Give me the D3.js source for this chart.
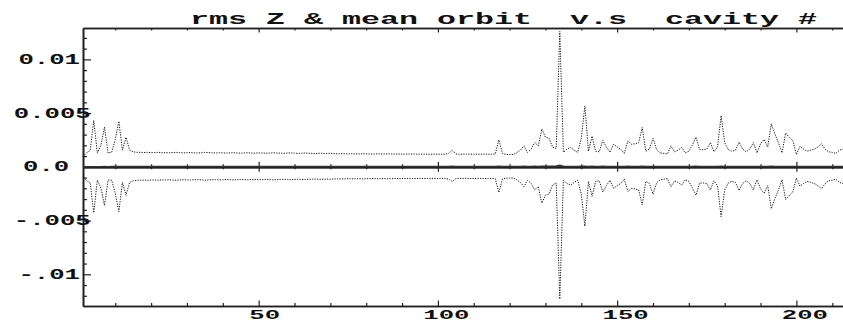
<!DOCTYPE html>
<head>
<meta charset="utf-8">
<title>rms Z & mean orbit v.s cavity #</title>
<script src="https://d3js.org/d3.v7.min.js"></script>
<style>
body{
	margin: 0;
	background: #fff;
}
svg{
	display: block;
}
.lbl{
	font-family: "Liberation Mono", "DejaVu Sans Mono", monospace;
	font-weight: bold;
	fill: #111;
}
</style>
</head>
<body>
<div id="my_dataviz"></div>

<script>

// values in units of 1e-3, one per cavity (cavity # = index + 1)
var rmsZ = [
  0.95, 1.3, 1.5, 4.3, 1.25, 2.0, 3.65, 1.25, 1.3, 2.5, 4.2, 1.5, 2.7, 1.5, 1.35, 1.3, 1.3, 1.28, 1.3, 1.27,
  1.28, 1.3, 1.26, 1.27, 1.25, 1.28, 1.3, 1.27, 1.25, 1.26, 1.28, 1.25, 1.24, 1.26, 1.3, 1.27, 1.25, 1.24, 1.26, 1.25,
  1.23, 1.25, 1.27, 1.24, 1.22, 1.24, 1.26, 1.23, 1.22, 1.25, 1.24, 1.22, 1.23, 1.26, 1.24, 1.22, 1.21, 1.23, 1.25, 1.22,
  1.2, 1.22, 1.24, 1.21, 1.2, 1.18, 1.22, 1.2, 1.19, 1.21, 1.18, 1.16, 1.18, 1.17, 1.15, 1.17, 1.16, 1.15, 1.17, 1.16,
  1.15, 1.14, 1.16, 1.15, 1.14, 1.16, 1.15, 1.13, 1.15, 1.14, 1.13, 1.15, 1.14, 1.13, 1.12, 1.14, 1.13, 1.12, 1.14, 1.13,
  1.12, 1.13, 1.2, 1.45, 1.15, 1.12, 1.13, 1.12, 1.14, 1.13, 1.12, 1.13, 1.14, 1.12, 1.13, 1.15, 2.45, 1.2, 1.1, 1.1,
  1.1, 1.25, 1.5, 1.9, 1.3, 1.6, 2.2, 1.9, 3.45, 2.7, 2.6, 1.75, 1.6, 12.45, 1.3, 1.6, 1.75, 1.5, 1.3, 2.6,
  5.6, 1.4, 2.8, 1.4, 1.35, 2.4, 1.8, 1.3, 2.05, 1.8, 1.6, 1.2, 2.35, 2.05, 2.1, 2.2, 3.6, 1.4, 1.6, 2.6,
  1.55, 1.25, 1.2, 1.15, 1.9, 1.35, 1.5, 1.75, 1.25, 1.4, 2.0, 2.7, 1.55, 1.55, 1.6, 2.2, 1.35, 1.8, 4.7, 2.2,
  1.55, 1.4, 1.5, 2.25, 1.6, 1.35, 1.6, 2.2, 1.25, 2.1, 2.5, 1.8, 3.95, 3.0, 2.2, 1.25, 3.1, 2.7, 2.4, 1.1,
  1.85, 1.6, 1.4, 1.5, 1.6, 1.8, 2.1, 1.6, 1.35, 1.3, 1.2, 1.5, 1.6
];

var meanOrbit = [
  0.0, 0.0, 0.02, 0.03, 0.02, 0.03, 0.04, 0.03, 0.05, 0.05, 0.04, 0.05, 0.05, 0.05, 0.05, 0.05, 0.05, 0.05, 0.05, 0.05,
  0.05, 0.05, 0.05, 0.05, 0.05, 0.05, 0.05, 0.05, 0.05, 0.05, 0.05, 0.05, 0.05, 0.05, 0.05, 0.05, 0.05, 0.05, 0.05, 0.05,
  0.05, 0.05, 0.05, 0.05, 0.05, 0.05, 0.05, 0.05, 0.05, 0.05, 0.05, 0.05, 0.05, 0.05, 0.05, 0.05, 0.05, 0.05, 0.05, 0.05,
  0.05, 0.05, 0.05, 0.05, 0.05, 0.05, 0.05, 0.05, 0.05, 0.05, 0.05, 0.05, 0.05, 0.05, 0.05, 0.05, 0.05, 0.05, 0.05, 0.05,
  0.05, 0.05, 0.05, 0.05, 0.05, 0.05, 0.05, 0.05, 0.05, 0.05, 0.05, 0.05, 0.05, 0.05, 0.05, 0.05, 0.05, 0.05, 0.05, 0.05,
  0.05, 0.05, 0.05, 0.08, 0.05, 0.05, 0.05, 0.05, 0.05, 0.05, 0.05, 0.05, 0.05, 0.05, 0.05, 0.05, 0.06, 0.05, 0.05, 0.05,
  0.05, 0.05, 0.05, 0.06, 0.05, 0.05, 0.06, 0.05, 0.07, 0.06, 0.06, 0.08, 0.1, 0.15, 0.06, 0.05, 0.05, 0.05, 0.05, 0.06,
  0.07, 0.05, 0.06, 0.05, 0.05, 0.06, 0.05, 0.05, 0.05, 0.05, 0.05, 0.05, 0.06, 0.05, 0.05, 0.05, 0.06, 0.05, 0.05, 0.05,
  0.05, 0.05, 0.05, 0.05, 0.05, 0.05, 0.05, 0.05, 0.05, 0.05, 0.05, 0.06, 0.05, 0.05, 0.05, 0.05, 0.05, 0.05, 0.07, 0.05,
  0.05, 0.05, 0.05, 0.05, 0.05, 0.05, 0.05, 0.05, 0.05, 0.05, 0.05, 0.05, 0.06, 0.05, 0.05, 0.05, 0.05, 0.05, 0.05, 0.05,
  0.05, 0.05, 0.05, 0.05, 0.05, 0.05, 0.05, 0.05, 0.05, 0.05, 0.05, 0.05, 0.05
];

var xMajorTicks = [50, 100, 150, 200];
var xMajorLabels = ["50", "100", "150", "200"];
var xMinorTicks = [10, 20, 30, 40, 60, 70, 80, 90, 110, 120, 130, 140, 160, 170, 180, 190, 210];

var yMajorTicks = [-10, -5, 0, 5, 10];
var yMajorLabels = ["-.01", "-.005", "0.0", "0.005", "0.01"];
var yMinorTicks = [-12, -11, -9, -8, -7, -6, -4, -3, -2, -1, 1, 2, 3, 4, 6, 7, 8, 9, 11, 12];

var title = "rms Z & mean orbit  v.s  cavity #";

// svg area (plot frame edges)
var width = 843, height = 322;
var frameL = 83, frameR = 843, frameT = 28, frameB = 306;

var svg = d3.select("#my_dataviz")
	.append("svg")
	.attr("width", width)
	.attr("height", height);

var x = d3.scaleLinear().domain([1, 213]).range([frameL, frameR]);
var y = d3.scaleLinear().domain([-12.95, 12.92]).range([frameB, frameT]);

var axisColor = "#222";

// helper that draws an axis with inward ticks
function drawAxis(gen, tx, ty, values, size) {
	var g = svg.append("g")
		.attr("transform", "translate(" + tx + "," + ty + ")")
		.call(gen.tickValues(values).tickSize(size).tickSizeOuter(0).tickFormat(""));
	g.select(".domain").attr("stroke", axisColor).attr("stroke-width", 1.6);
	g.selectAll(".tick line").attr("stroke", axisColor).attr("stroke-width", 1.2);
	return g;
}

// frame: top, bottom, left
drawAxis(d3.axisTop(x), 0, frameT, xMinorTicks, -2.5);
drawAxis(d3.axisTop(x), 0, frameT, xMajorTicks, -4.5);
drawAxis(d3.axisBottom(x), 0, frameB, xMinorTicks, -3);
drawAxis(d3.axisBottom(x), 0, frameB, xMajorTicks, -5.5);
drawAxis(d3.axisLeft(y), frameL, 0, yMinorTicks, -4);
drawAxis(d3.axisLeft(y), frameL, 0, yMajorTicks, -8);

// zero line with ticks on both sides
drawAxis(d3.axisTop(x), 0, y(0), xMinorTicks, 2.5);
drawAxis(d3.axisBottom(x), 0, y(0), xMinorTicks, 2.5);
drawAxis(d3.axisTop(x), 0, y(0), xMajorTicks, 5);
drawAxis(d3.axisBottom(x), 0, y(0), xMajorTicks, 5);

// traces
var upper = d3.line()
	.x((d, i) => x(i + 1))
	.y((d, i) => y(meanOrbit[i] + d));
var lower = d3.line()
	.x((d, i) => x(i + 1))
	.y((d, i) => y(meanOrbit[i] - d));
var mean = d3.line()
	.x((d, i) => x(i + 1))
	.y(d => y(d));

svg.append("path")
	.datum(rmsZ)
	.attr("d", upper)
	.attr("fill", "none")
	.attr("stroke", "#111")
	.attr("stroke-width", 1)
	.attr("stroke-dasharray", "1.2,1.3");

svg.append("path")
	.datum(rmsZ)
	.attr("d", lower)
	.attr("fill", "none")
	.attr("stroke", "#111")
	.attr("stroke-width", 1)
	.attr("stroke-dasharray", "1.2,1.3");

svg.append("path")
	.datum(meanOrbit)
	.attr("d", mean)
	.attr("fill", "none")
	.attr("stroke", "#333")
	.attr("stroke-width", 1.2);

// tick labels
var charW = 15.4;

svg.append("g")
	.selectAll("text")
	.data(yMajorTicks)
	.join("text")
	.attr("class", "lbl")
	.attr("font-size", 14)
	.attr("x", (d, i) => 37 - 4.65 * yMajorLabels[i].length)
	.attr("y", d => y(d) + 4.5)
	.attr("textLength", (d, i) => charW * yMajorLabels[i].length)
	.attr("lengthAdjust", "spacingAndGlyphs")
	.text((d, i) => yMajorLabels[i]);

svg.append("g")
	.selectAll("text")
	.data(xMajorTicks)
	.join("text")
	.attr("class", "lbl")
	.attr("font-size", 13)
	.attr("text-anchor", "middle")
	.attr("x", (d, i) => x(d) + 1 + 2.5 * xMajorLabels[i].length)
	.attr("y", 319)
	.attr("textLength", (d, i) => charW * xMajorLabels[i].length)
	.attr("lengthAdjust", "spacingAndGlyphs")
	.text((d, i) => xMajorLabels[i]);

// title
svg.append("text")
	.attr("class", "lbl")
	.attr("font-size", 17)
	.attr("x", 190)
	.attr("y", 24)
	.attr("textLength", 627)
	.attr("lengthAdjust", "spacingAndGlyphs")
	.attr("xml:space", "preserve")
	.text(title);

</script>
</body>
</html>
